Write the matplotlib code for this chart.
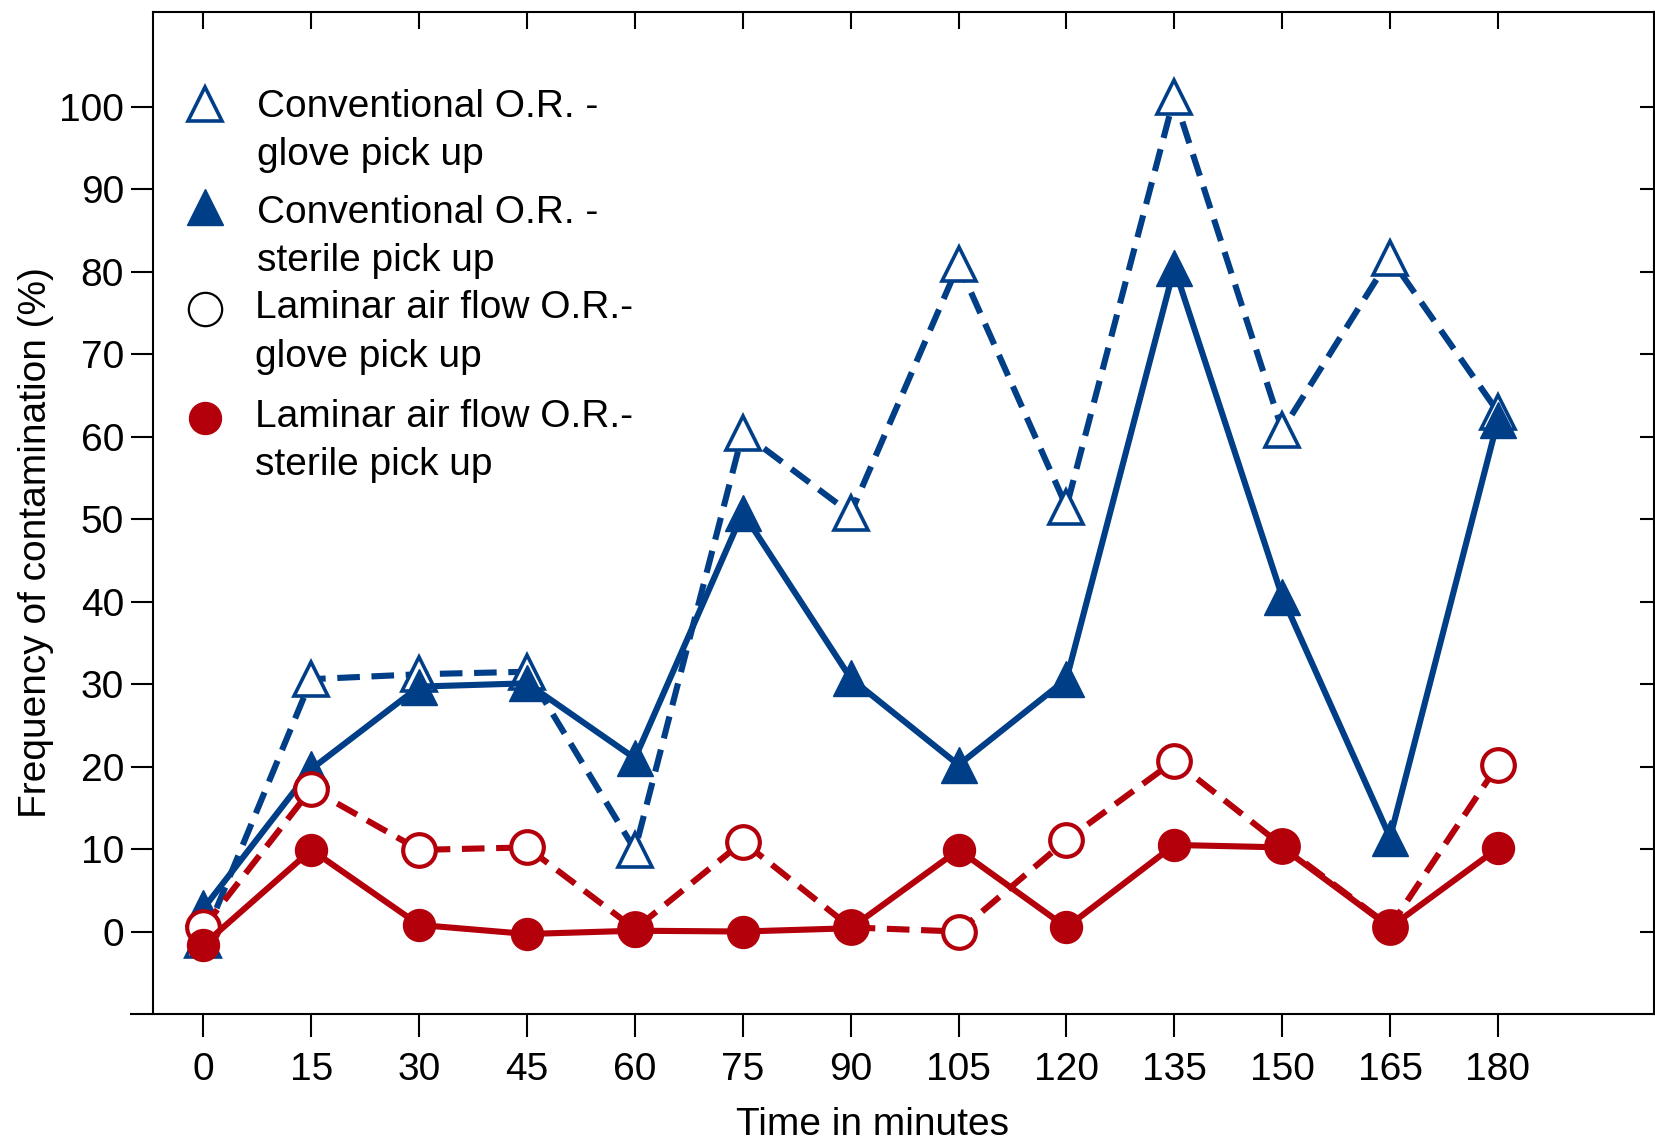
import matplotlib
matplotlib.use("Agg")
import matplotlib.pyplot as plt

# data
minutes = [0, 15, 30, 45, 60, 75, 90, 105, 120, 135, 150, 165, 180]
conv_glove = [-1.0, 30.6, 31.2, 31.5, 9.9, 60.5, 50.7, 80.9, 51.5, 101.2, 60.8, 81.7, 63.0]
conv_sterile = [2.8, 19.7, 29.7, 30.1, 21.0, 50.8, 30.7, 20.2, 30.6, 80.5, 40.6, 11.4, 62.0]
lam_glove = [0.5, 17.3, 9.9, 10.2, 0.3, 10.9, 0.5, 0.0, 11.1, 20.7, 10.4, 0.6, 20.2]
lam_sterile = [-1.6, 9.9, 0.8, -0.3, 0.1, 0.0, 0.4, 9.9, 0.5, 10.5, 10.2, 0.5, 10.1]

y_ticks = [0, 10, 20, 30, 40, 50, 60, 70, 80, 90, 100]
labels = ["Conventional O.R. -\nglove pick up",
          "Conventional O.R. -\nsterile pick up",
          "Laminar air flow O.R.-\nglove pick up",
          "Laminar air flow O.R.-\nsterile pick up"]

BLUE = '#003F87'
RED = '#B3000B'

plt.rcParams['font.family'] = ['Liberation Sans', 'DejaVu Sans']
plt.rcParams['font.size'] = 28

W, H = 1656, 1144
fig = plt.figure(figsize=(W / 100, H / 100), dpi=100)
ax = fig.add_axes([131 / W, 1 - 1014 / H, (1654 - 131) / W, (1014 - 12) / H])

# marker styles, one per series (same order as labels)
styles = [
    dict(color=BLUE, marker='^', ms=25, mfc='white', mec=BLUE, mew=2.6),
    dict(color=BLUE, marker='^', ms=26.5, mfc=BLUE, mec=BLUE, mew=1),
    dict(color=RED, marker='o', ms=23.5, mfc='white', mec=RED, mew=3),
    dict(color=RED, marker='o', ms=23, mfc=RED, mec=RED, mew=1),
]
series = [conv_glove, conv_sterile, lam_glove, lam_sterile]
dashed = [True, False, True, False]

for i, (vals, st, d) in enumerate(zip(series, styles, dashed)):
    line, = ax.plot(minutes, vals, lw=4.4, zorder=3 + i, **st)
    if d:
        line.set_dashes((3.7, 1.9))

# hand-placed legend (marker beside first line of a two-line label)
leg_styles = [dict(s) for s in styles]
leg_styles[2].update(mec='black', mew=1.6, ms=24)
mark_y = [0.908, 0.805, 0.704, 0.595]
text_x = [0.0827, 0.0827, 0.0814, 0.0814]
base_y = [(0.895, 0.847), (0.789, 0.742), (0.695, 0.646), (0.586, 0.538)]
for st, my, tx, by, lab in zip(leg_styles, mark_y, text_x, base_y, labels):
    ax.plot([0.0486], [my], transform=ax.transAxes, clip_on=False,
            ls='none', zorder=10, **st)
    for yy, part in zip(by, lab.split('\n')):
        ax.text(tx, yy, part, transform=ax.transAxes, va='baseline', ha='left')

ax.set_xlim(-10.08, 201.7)
ax.set_ylim(-10, 111.5)

for s in ax.spines.values():
    s.set_linewidth(1.5)
ax.spines['left'].set_position(('data', -7.0))
ax.spines['top'].set_bounds(-7.0, 201.7)

ax.set_xticks(minutes)
ax.set_yticks(y_ticks)
ax.tick_params(axis='x', direction='out', length=16.5, width=1.5, pad=11)
ax.tick_params(axis='y', direction='out', length=16, width=1.5, pad=5)

secx = ax.secondary_xaxis('top')
secx.set_xticks(minutes)
secx.tick_params(direction='in', length=12.5, width=1.5, labeltop=False)
secx.spines['top'].set_visible(False)

secy = ax.secondary_yaxis('right')
secy.set_yticks(y_ticks)
secy.tick_params(direction='in', length=10, width=1.5, labelright=False)
secy.spines['right'].set_visible(False)

ax.set_xlabel('Time in minutes')
ax.xaxis.set_label_coords(0.487, -0.093)
ax.set_ylabel('Frequency of contamination (%)')
ax.yaxis.set_label_coords(-0.0506, 0.47)

fig.savefig('out.png', dpi=100)
